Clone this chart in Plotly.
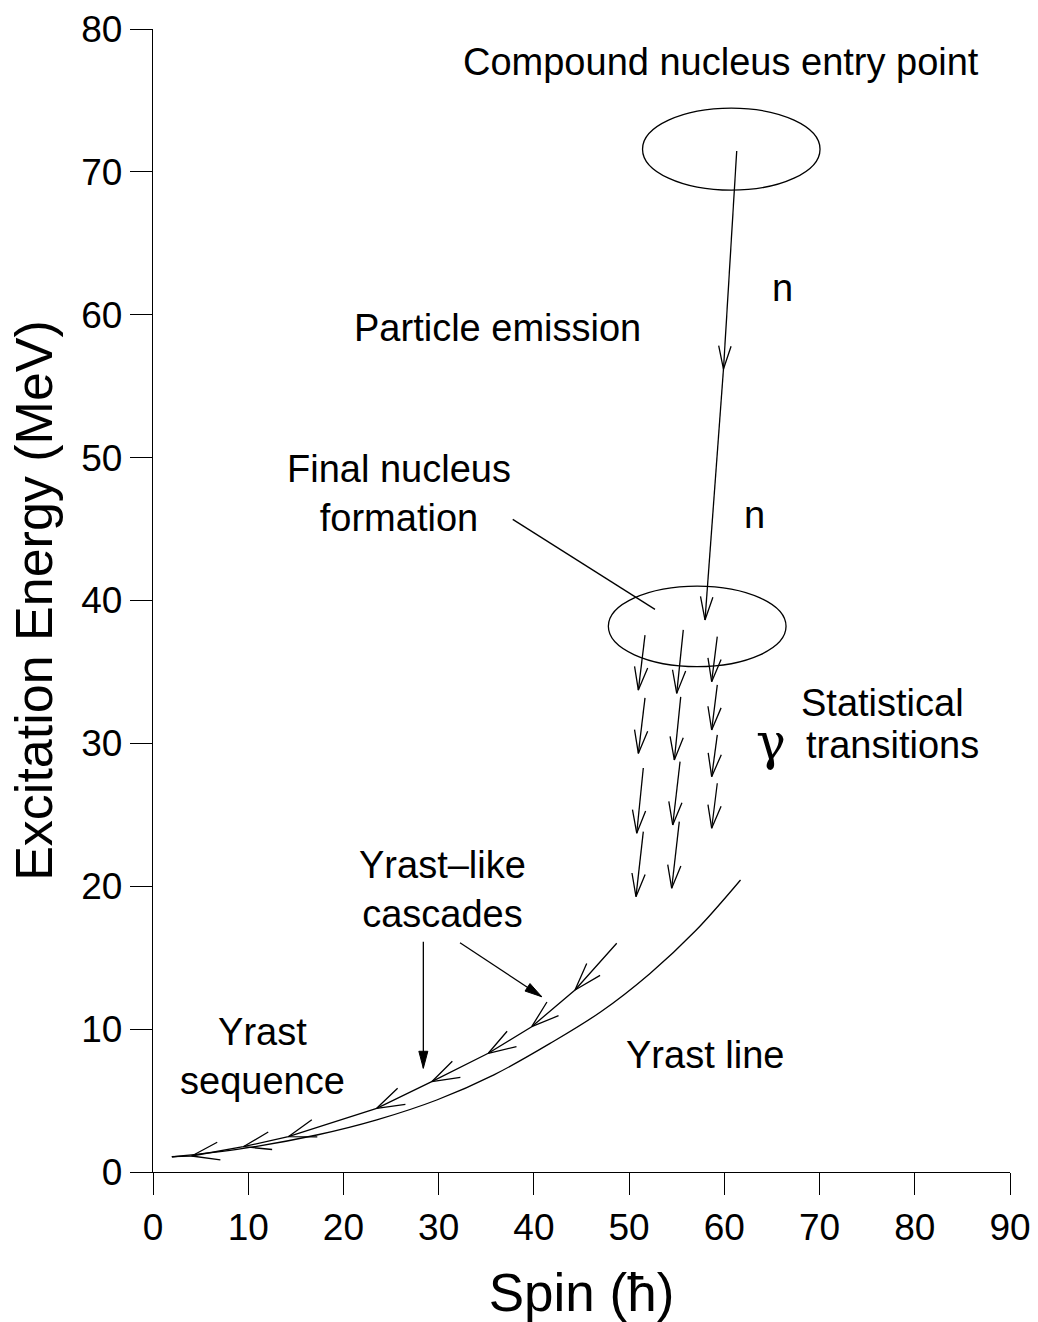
import numpy as np
import plotly.graph_objects as go

# ---------------- data ----------------
x_ticks = [0, 10, 20, 30, 40, 50, 60, 70, 80, 90]
y_ticks = [0, 10, 20, 30, 40, 50, 60, 70, 80]

# Yrast line (spin, excitation energy)
yrast_spin = [2.0, 9.5, 17.2, 23.5, 29.8, 35.8, 41.7, 47.0, 52.2, 57.0, 61.7]
yrast_energy = [1.05, 1.65, 2.59, 3.65, 5.04, 6.8, 9.0, 11.2, 13.9, 16.9, 20.44]

# Yrast-like cascade vertices, from top to bottom (arrow heads at interior points)
casc_spin = [48.70, 44.32, 39.77, 35.21, 29.27, 23.49, 14.21, 9.48, 4.06, 1.96]
casc_energy = [16.01, 12.74, 10.17, 8.31, 6.32, 4.46, 2.47, 1.77, 1.12, 1.07]

# Statistical gamma transitions: three columns, each a list of (x0, y0, x1, y1)
gamma_col1 = [(51.67, 37.58, 50.97, 33.73), (51.67, 33.18, 50.97, 29.30),
              (51.49, 28.28, 50.80, 23.71), (51.49, 23.82, 50.72, 19.27)]
gamma_col2 = [(55.69, 37.94, 55.00, 33.50), (55.42, 33.25, 54.75, 28.84),
              (55.35, 28.72, 54.58, 24.29), (55.27, 24.52, 54.47, 19.86)]
gamma_col3 = [(59.26, 37.47, 58.67, 34.32), (59.26, 34.09, 58.67, 30.94),
              (59.26, 30.59, 58.67, 27.67), (59.26, 27.21, 58.67, 24.06)]

# Neutron emission path (compound -> final nucleus)
neutron_spin = [61.30, 59.91, 57.97]
neutron_energy = [71.46, 56.20, 38.64]

# Ellipses: (center spin, center energy, half-width spin, half-height energy)
compound_ellipse = (60.73, 71.59, 9.32, 2.87)
final_ellipse = (57.15, 38.19, 9.33, 2.82)

# Pointer line for "Final nucleus formation"
final_pointer = (37.78, 45.68, 52.72, 39.38)
# Pointer arrows for "Yrast-like cascades" (filled heads)
cascade_pointers = [(28.39, 16.12, 28.39, 7.26), (32.24, 16.05, 40.82, 12.27)]

# ---------------- layout geometry ----------------
W, H = 1038, 1322
ML, MR, MT, MB = 153, 28, 29, 150
XR = [0, 90]
YR = [0, 80]
SX = (W - ML - MR) / (XR[1] - XR[0])   # px per spin unit
SY = (H - MT - MB) / (YR[1] - YR[0])   # px per MeV

LW = 1.3
FONT = "Liberation Sans, Arial, Helvetica, sans-serif"


def v_head(x0, y0, x1, y1, length=24, half_angle=16):
    """Open V arrow head at (x1, y1), computed in pixel space."""
    dx, dy = (x1 - x0) * SX, (y1 - y0) * SY
    n = np.hypot(dx, dy)
    ux, uy = dx / n, dy / n
    xs, ys = [], []
    for s in (1, -1):
        a = np.radians(half_angle) * s
        rx = ux * np.cos(a) - uy * np.sin(a)
        ry = ux * np.sin(a) + uy * np.cos(a)
        xs.append(x1 - length * rx / SX)
        ys.append(y1 - length * ry / SY)
    return [xs[0], x1, xs[1], None], [ys[0], y1, ys[1], None]


def filled_head(x0, y0, x1, y1, length=17, half_width=4.5):
    dx, dy = (x1 - x0) * SX, (y1 - y0) * SY
    n = np.hypot(dx, dy)
    ux, uy = dx / n, dy / n
    px, py = -uy, ux
    bx, by = x1 - length * ux / SX, y1 - length * uy / SY
    xs = [x1, bx + half_width * px / SX, bx - half_width * px / SX, x1]
    ys = [y1, by + half_width * py / SY, by - half_width * py / SY, y1]
    return xs, ys


fig = go.Figure()

# Yrast line
fig.add_trace(go.Scatter(x=yrast_spin, y=yrast_energy, mode="lines",
                         line=dict(color="black", width=LW, shape="spline", smoothing=1.0),
                         hoverinfo="skip", showlegend=False))

# Cascade polyline with heads
fig.add_trace(go.Scatter(x=casc_spin, y=casc_energy, mode="lines",
                         line=dict(color="black", width=LW),
                         hoverinfo="skip", showlegend=False))
hx, hy = [], []
for i in range(1, len(casc_spin) - 1):
    a, b = v_head(casc_spin[i - 1], casc_energy[i - 1], casc_spin[i], casc_energy[i],
                  length=29, half_angle=18)
    hx += a
    hy += b

# Gamma arrows
gx, gy = [], []
for col in (gamma_col1, gamma_col2, gamma_col3):
    for (x0, y0, x1, y1) in col:
        gx += [x0, x1, None]
        gy += [y0, y1, None]
        a, b = v_head(x0, y0, x1, y1, length=24, half_angle=16)
        hx += a
        hy += b

# Neutron arrows
for i in range(len(neutron_spin) - 1):
    x0, y0, x1, y1 = neutron_spin[i], neutron_energy[i], neutron_spin[i + 1], neutron_energy[i + 1]
    gx += [x0, x1, None]
    gy += [y0, y1, None]
    a, b = v_head(x0, y0, x1, y1, length=24, half_angle=15)
    hx += a
    hy += b

# Final nucleus pointer
gx += [final_pointer[0], final_pointer[2], None]
gy += [final_pointer[1], final_pointer[3], None]

# Cascade pointer lines
for (x0, y0, x1, y1) in cascade_pointers:
    gx += [x0, x1, None]
    gy += [y0, y1, None]

fig.add_trace(go.Scatter(x=gx, y=gy, mode="lines", line=dict(color="black", width=LW),
                         hoverinfo="skip", showlegend=False))
fig.add_trace(go.Scatter(x=hx, y=hy, mode="lines", line=dict(color="black", width=LW),
                         hoverinfo="skip", showlegend=False))

for (x0, y0, x1, y1) in cascade_pointers:
    tx, ty = filled_head(x0, y0, x1, y1)
    fig.add_trace(go.Scatter(x=tx, y=ty, mode="lines", fill="toself", fillcolor="black",
                             line=dict(color="black", width=1), hoverinfo="skip",
                             showlegend=False))

# Ellipses
for (cx, cy, ax, ay) in (compound_ellipse, final_ellipse):
    fig.add_shape(type="circle", xref="x", yref="y", x0=cx - ax, x1=cx + ax,
                  y0=cy - ay, y1=cy + ay, line=dict(color="black", width=LW))

# Text labels
labels = [
    ("Compound nucleus entry point", 59.70, 77.69),
    ("n", 66.16, 61.87),
    ("n", 63.22, 45.98),
    ("Particle emission", 36.23, 59.07),
    ("Final nucleus<br>formation", 25.83, 47.52),
    ("Statistical", 76.56, 32.83),
    ("transitions", 77.71, 29.89),
    ("Yrast–like<br>cascades", 30.35, 19.74),
    ("Yrast<br>sequence", 11.55, 8.05),
    ("Yrast line", 57.97, 8.19),
]
for txt, x, y in labels:
    fig.add_annotation(x=x, y=y, xref="x", yref="y", text=txt, showarrow=False,
                       xanchor="center", yanchor="middle", align="center",
                       font=dict(family=FONT, size=38, color="black"))
fig.add_annotation(x=64.9, y=30.1, xref="x", yref="y", text="γ", showarrow=False,
                   xanchor="center", yanchor="middle",
                   font=dict(family="DejaVu Serif, Liberation Serif, serif", size=50, color="black"))

fig.update_layout(
    width=W, height=H,
    margin=dict(l=ML, r=MR, t=MT, b=MB, pad=0, autoexpand=False),
    paper_bgcolor="white", plot_bgcolor="white",
    font=dict(family=FONT, color="black"),
    showlegend=False,
)
fig.update_xaxes(range=XR, tickvals=x_ticks, ticktext=[str(v) for v in x_ticks],
                 automargin=False,
                 showgrid=False, zeroline=False, showline=True, linecolor="black", linewidth=LW,
                 ticks="outside", ticklen=22, tickwidth=LW, tickcolor="black",
                 tickfont=dict(family=FONT, size=37, color="black"),
                 title=dict(text="Spin (ħ)", font=dict(family=FONT, size=53, color="black"),
                            standoff=32))
fig.update_yaxes(range=YR, tickvals=y_ticks, ticktext=[str(v) for v in y_ticks],
                 automargin=False,
                 showgrid=False, zeroline=False, showline=True, linecolor="black", linewidth=LW,
                 ticks="outside", ticklen=22, tickwidth=LW, tickcolor="black",
                 tickfont=dict(family=FONT, size=37, color="black"),
                 title=dict(text="Excitation Energy (MeV)",
                            font=dict(family=FONT, size=52, color="black"), standoff=12))

fig.write_html("out.html")
